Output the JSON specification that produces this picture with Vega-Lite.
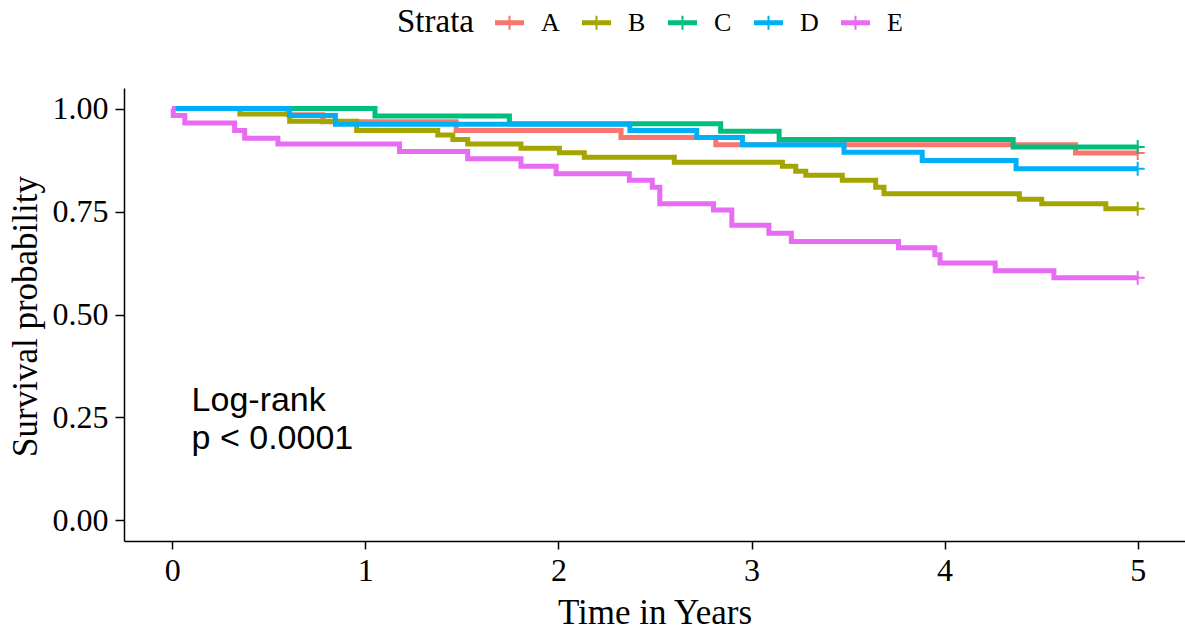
{
  "$schema": "https://vega.github.io/schema/vega-lite/v6.json",
  "width": 1061,
  "height": 453,
  "autosize": {"type": "none"},
  "padding": {"left": 124, "top": 88, "right": 0, "bottom": 92},
  "background": "white",
  "config": {
    "font": "Liberation Serif",
    "view": {"stroke": null},
    "axis": {
      "grid": false,
      "domainColor": "black",
      "domainWidth": 1.5,
      "tickColor": "black",
      "tickWidth": 1.5,
      "labelColor": "black",
      "titleColor": "black",
      "labelFont": "Liberation Serif",
      "titleFont": "Liberation Serif",
      "labelFontSize": 32,
      "titleFontSize": 35,
      "titleFontWeight": "normal"
    },
    "legend": {
      "labelFont": "Liberation Serif",
      "titleFont": "Liberation Serif"
    }
  },
  "datasets": {
    "surv": [
      {"strata": "A", "time": 0, "surv": 1.0},
      {"strata": "A", "time": 0.6, "surv": 0.985},
      {"strata": "A", "time": 0.78, "surv": 0.968},
      {"strata": "A", "time": 1.47, "surv": 0.947},
      {"strata": "A", "time": 2.324, "surv": 0.93},
      {"strata": "A", "time": 2.815, "surv": 0.912},
      {"strata": "A", "time": 4.678, "surv": 0.892},
      {"strata": "A", "time": 5.0, "surv": 0.892},
      {"strata": "B", "time": 0, "surv": 1.0},
      {"strata": "B", "time": 0.35, "surv": 0.987},
      {"strata": "B", "time": 0.608, "surv": 0.969},
      {"strata": "B", "time": 0.955, "surv": 0.947},
      {"strata": "B", "time": 1.375, "surv": 0.936},
      {"strata": "B", "time": 1.453, "surv": 0.925},
      {"strata": "B", "time": 1.53, "surv": 0.914},
      {"strata": "B", "time": 1.806, "surv": 0.904},
      {"strata": "B", "time": 2.005, "surv": 0.893},
      {"strata": "B", "time": 2.134, "surv": 0.882},
      {"strata": "B", "time": 2.6, "surv": 0.87},
      {"strata": "B", "time": 3.16, "surv": 0.86},
      {"strata": "B", "time": 3.229, "surv": 0.848},
      {"strata": "B", "time": 3.281, "surv": 0.838},
      {"strata": "B", "time": 3.47, "surv": 0.826},
      {"strata": "B", "time": 3.643, "surv": 0.809},
      {"strata": "B", "time": 3.686, "surv": 0.793},
      {"strata": "B", "time": 4.387, "surv": 0.78},
      {"strata": "B", "time": 4.503, "surv": 0.769},
      {"strata": "B", "time": 4.835, "surv": 0.757},
      {"strata": "B", "time": 5.0, "surv": 0.757},
      {"strata": "C", "time": 0, "surv": 1.0},
      {"strata": "C", "time": 1.05, "surv": 0.982},
      {"strata": "C", "time": 1.746, "surv": 0.963},
      {"strata": "C", "time": 2.84, "surv": 0.945},
      {"strata": "C", "time": 3.143, "surv": 0.925},
      {"strata": "C", "time": 4.355, "surv": 0.907},
      {"strata": "C", "time": 5.0, "surv": 0.907},
      {"strata": "D", "time": 0, "surv": 1.0},
      {"strata": "D", "time": 0.608, "surv": 0.983},
      {"strata": "D", "time": 0.845, "surv": 0.962},
      {"strata": "D", "time": 2.37, "surv": 0.947},
      {"strata": "D", "time": 2.716, "surv": 0.93},
      {"strata": "D", "time": 2.953, "surv": 0.912},
      {"strata": "D", "time": 3.479, "surv": 0.894},
      {"strata": "D", "time": 3.884, "surv": 0.874},
      {"strata": "D", "time": 4.37, "surv": 0.854},
      {"strata": "D", "time": 5.0, "surv": 0.854},
      {"strata": "E", "time": 0, "surv": 1.0},
      {"strata": "E", "time": 0.005, "surv": 0.983},
      {"strata": "E", "time": 0.065, "surv": 0.965},
      {"strata": "E", "time": 0.323, "surv": 0.947},
      {"strata": "E", "time": 0.375, "surv": 0.928},
      {"strata": "E", "time": 0.547, "surv": 0.914},
      {"strata": "E", "time": 1.177, "surv": 0.896},
      {"strata": "E", "time": 1.53, "surv": 0.878},
      {"strata": "E", "time": 1.806, "surv": 0.86},
      {"strata": "E", "time": 1.988, "surv": 0.842},
      {"strata": "E", "time": 2.367, "surv": 0.826},
      {"strata": "E", "time": 2.486, "surv": 0.809},
      {"strata": "E", "time": 2.525, "surv": 0.769},
      {"strata": "E", "time": 2.803, "surv": 0.754},
      {"strata": "E", "time": 2.898, "surv": 0.717},
      {"strata": "E", "time": 3.09, "surv": 0.697},
      {"strata": "E", "time": 3.206, "surv": 0.677},
      {"strata": "E", "time": 3.761, "surv": 0.662},
      {"strata": "E", "time": 3.949, "surv": 0.645},
      {"strata": "E", "time": 3.976, "surv": 0.625},
      {"strata": "E", "time": 4.262, "surv": 0.606},
      {"strata": "E", "time": 4.566, "surv": 0.589},
      {"strata": "E", "time": 5.0, "surv": 0.589}
    ],
    "censor": [
      {"strata": "A", "time": 5.0, "surv": 0.892},
      {"strata": "B", "time": 5.0, "surv": 0.757},
      {"strata": "C", "time": 5.0, "surv": 0.907},
      {"strata": "D", "time": 5.0, "surv": 0.854},
      {"strata": "E", "time": 5.0, "surv": 0.589}
    ]
  },
  "layer": [
    {
      "data": {"name": "surv"},
      "mark": {"type": "line", "interpolate": "step-after", "strokeWidth": 5, "clip": false},
      "encoding": {
        "x": {
          "field": "time", "type": "quantitative",
          "scale": {"domain": [-0.25, 5.245], "nice": false, "zero": false},
          "axis": {"title": "Time in Years", "values": [0, 1, 2, 3, 4, 5], "format": "d", "tickSize": 8, "labelPadding": 6, "titleY": 82, "titleBaseline": "alphabetic"}
        },
        "y": {
          "field": "surv", "type": "quantitative",
          "scale": {"domain": [-0.05, 1.05], "nice": false, "zero": false},
          "axis": {"title": "Survival probability", "values": [0, 0.25, 0.5, 0.75, 1], "format": ".2f", "tickSize": 9, "labelPadding": 7, "titleX": -99, "titleY": 228, "titleBaseline": "middle", "titleAlign": "center", "titleAngle": -90}
        },
        "color": {
          "field": "strata", "type": "nominal",
          "scale": {"domain": ["A", "B", "C", "D", "E"], "range": ["#F8766D", "#A3A500", "#00BF7D", "#00B0F6", "#E76BF3"]},
          "legend": {
            "title": "Strata",
            "orient": "none",
            "legendX": 273,
            "legendY": -80,
            "direction": "horizontal",
            "columns": 5,
            "titleOrient": "left",
            "titleFontSize": 33,
            "titleFontWeight": "normal",
            "titleColor": "black",
            "titlePadding": 21,
            "labelFontSize": 26,
            "labelColor": "black",
            "labelOffset": 17,
            "columnPadding": 22,
            "symbolType": "M-1,-0.17H1V0.17H-1Z M-0.07,-0.48H0.07V0.48H-0.07Z",
            "symbolSize": 841,
            "symbolStrokeWidth": 0,
            "encode": {
              "symbols": {
                "update": {
                  "fill": {"scale": "color", "field": "value"},
                  "fillOpacity": {"value": 1},
                  "strokeWidth": {"value": 0}
                }
              }
            }
          }
        }
      }
    },
    {
      "data": {"name": "censor"},
      "mark": {"type": "point", "shape": "M-1,0H1M0,-1V1", "filled": false, "strokeWidth": 2, "size": 196, "opacity": 1, "clip": false},
      "encoding": {
        "x": {"field": "time", "type": "quantitative"},
        "y": {"field": "surv", "type": "quantitative"},
        "color": {"field": "strata", "type": "nominal", "legend": null}
      }
    },
    {
      "data": {"values": [{"label": "Log-rank\np < 0.0001"}]},
      "mark": {"type": "text", "align": "left", "baseline": "top", "font": "Liberation Sans", "fontSize": 34, "lineBreak": "\n", "lineHeight": 38, "color": "black"},
      "encoding": {
        "x": {"datum": 0.1, "type": "quantitative"},
        "y": {"datum": 0.331, "type": "quantitative"},
        "text": {"field": "label"}
      }
    }
  ]
}
